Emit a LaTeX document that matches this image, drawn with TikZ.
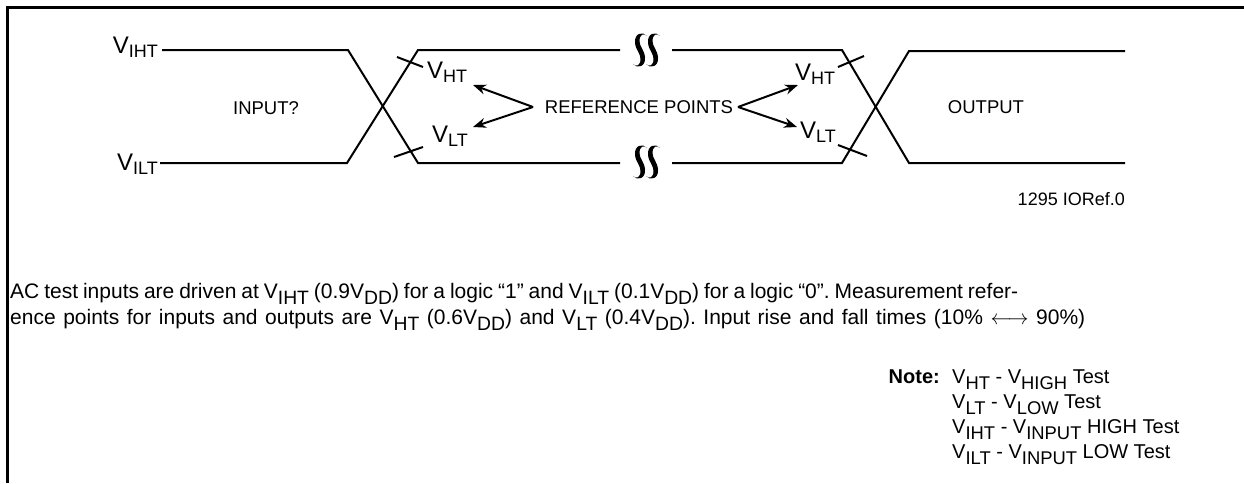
\documentclass[tikz,border=0pt]{standalone}
\usepackage{fontspec}
\setmainfont{Liberation Sans}
\usetikzlibrary{arrows.meta}
\newcommand\sbs[1]{\raisebox{-0.3em}{\scalebox{0.92}{#1}}}
\newcommand\lv[1]{{\fontsize{24}{26}\selectfont V}\raisebox{-4pt}{\fontsize{18}{20}\selectfont #1}}
\begin{document}
\begin{tikzpicture}[x=1pt,y=-1pt,
  frame/.style={line width=3pt},
  wave/.style={line width=2pt, line join=miter},
  tick/.style={line width=2pt},
  arr/.style={line width=2pt, -{Stealth[length=13pt,width=10pt]}},
  lbl/.style={font=\fontsize{18.5}{22}\selectfont, inner sep=0pt},
  body/.style={font=\fontsize{21}{24}\selectfont\frenchspacing, inner sep=0pt, anchor=base west},
  note/.style={font=\fontsize{20}{24}\selectfont, inner sep=0pt, anchor=base west},
  small/.style={font=\fontsize{18}{20}\selectfont, inner sep=0pt},
  sstroke/.pic={\fill (7,-14) .. controls (3,-19) and (-6,-17) .. (-5,-7)
      .. controls (-4,1) and (0.5,3) .. (0.5,9)
      .. controls (0.5,16) and (-4,17) .. (-7,14)
      .. controls (-3,19) and (6,17) .. (5,7)
      .. controls (4,-1) and (-0.5,-3) .. (-0.5,-9)
      .. controls (-0.5,-16) and (4,-17) .. (7,-14) -- cycle;}
]
\useasboundingbox (0,0) rectangle (1244,483);
\draw[frame] (7,483) -- (7,7) -- (1244,7);

% waveforms
\draw[wave] (162,50) -- (348,50) -- (418,163) -- (620,163);
\draw[wave] (160,163) -- (347,163) -- (418,50) -- (620,50);
\draw[wave] (672,50) -- (842,50) -- (909,163) -- (1125,163);
\draw[wave] (672,163) -- (842,163) -- (909,51) -- (1125,51);

% break symbols
\pic at (640,50) {sstroke};
\pic at (653,50) {sstroke};
\pic at (640,162) {sstroke};
\pic at (653,162) {sstroke};

% ticks
\draw[tick] (397,57) -- (423,67);
\draw[tick] (394,157) -- (423,147);
\draw[tick] (838,67) -- (864,56);
\draw[tick] (838,145) -- (867,156);

% labels
\node[lbl, anchor=base east] (viht) at (158,53) {\lv{IHT}};
\node[lbl, anchor=base east] (vilt) at (158,170) {\lv{ILT}};
\node[lbl, anchor=base west] (vhtl) at (427,78) {\lv{HT}};
\node[lbl, anchor=base west] (vltl) at (432,142) {\lv{LT}};
\node[lbl, anchor=base west] (vhtr) at (795,80) {\lv{HT}};
\node[lbl, anchor=base west] (vltr) at (800,138) {\lv{LT}};
\node[lbl] (inp) at (266,108) {INPUT?};
\node[lbl] (outp) at (986,107) {OUTPUT};
\node[lbl] (ref) at (639,107) {REFERENCE POINTS};

\coordinate (rl) at (533,107);
\coordinate (rr) at (738,107);
\coordinate (thl) at (473,85);
\coordinate (tll) at (473,127);
\coordinate (thr) at (798,85);
\coordinate (tlr) at (797,127);
\draw[arr] (rl) -- (thl);
\draw[arr] (rl) -- (tll);
\draw[arr] (rr) -- (thr);
\draw[arr] (rr) -- (tlr);

\node[small, anchor=base east] (fig) at (1125,205) {1295 IORef.0};

% body text
\node[body] (l1) at (10,298) {\makebox[1008pt][s]{AC test inputs are driven at V\sbs{IHT} (0.9V\sbs{DD}) for a logic “1” and V\sbs{ILT} (0.1V\sbs{DD}) for a logic “0”. Measurement refer-}};
\node[body] (l2) at (10,324) {\makebox[1075pt][s]{ence points for inputs and outputs are V\sbs{HT} (0.6V\sbs{DD}) and V\sbs{LT} (0.4V\sbs{DD}). Input rise and fall times (10\% $\longleftrightarrow$ 90\%)}};

% note
\node[note, anchor=base east, font=\fontsize{20}{24}\selectfont\bfseries] (nt) at (940,383) {Note:};
\node[note] (n1) at (952,383) {V\sbs{HT} - V\sbs{HIGH} Test};
\node[note] (n2) at (952,408) {V\sbs{LT} - V\sbs{LOW} Test};
\node[note] (n3) at (952,433) {V\sbs{IHT} - V\sbs{INPUT} HIGH Test};
\node[note] (n4) at (952,458) {V\sbs{ILT} - V\sbs{INPUT} LOW Test};
\end{tikzpicture}
\end{document}
